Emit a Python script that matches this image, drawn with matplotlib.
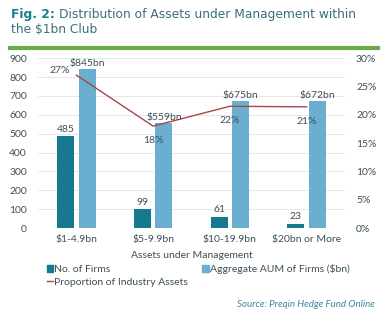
import numpy as np
import matplotlib.pyplot as plt
from matplotlib.lines import Line2D
from matplotlib.patches import Patch

categories = ['$1-4.9bn', '$5-9.9bn', '$10-19.9bn', '$20bn or More']
firms = [485, 99, 61, 23]
aum = [845, 559, 675, 672]
aum_labels = ['$845bn', '$559bn', '$675bn', '$672bn']
proportion = [0.27, 0.18, 0.215, 0.214]
prop_labels = ['27%', '18%', '22%', '21%']

dark = '#17798f'
light = '#6aafd0'
red = '#a8464a'
text_c = '#3d4f5a'

plt.rcParams['font.family'] = ['Lato', 'DejaVu Sans']

fig = plt.figure(figsize=(3.88, 3.23), dpi=100)
ax = fig.add_axes([0.098, 0.294, 0.791, 0.526])
ax2 = ax.twinx()

fs = 7.5

x = np.arange(len(categories))
w = 0.22
ax.bar(x - 0.14, firms, w, color=dark, zorder=3)
ax.bar(x + 0.14, aum, w, color=light, zorder=3)
for xi, v in zip(x, firms):
    ax.text(xi - 0.14, v + 15, str(v), ha='center', va='bottom', fontsize=fs, color=text_c)
for xi, v, s in zip(x, aum, aum_labels):
    ax.text(xi + 0.14, v + 5, s, ha='center', va='bottom', fontsize=fs, color=text_c)

ax.set_ylim(0, 900)
ax.set_yticks(range(0, 901, 100))
ax.set_xlim(-0.5, 3.5)
ax.set_xticks(x)
ax.set_xticklabels(categories)
ax.set_xlabel('Assets under Management', fontsize=fs, color=text_c, labelpad=5)
ax.grid(axis='y', color='#e3e3e3', lw=0.6, zorder=0)

ax2.plot(x, proportion, color=red, lw=1.0, zorder=4)
offs = [(-0.08, 0.008, 'right'), (0, -0.025, 'center'), (0, -0.025, 'center'), (0, -0.025, 'center')]
for xi, v, s, (dx, dy, ha) in zip(x, proportion, prop_labels, offs):
    ax2.text(xi + dx, v + dy, s, ha=ha, va='center', fontsize=fs, color=text_c)
ax2.set_ylim(0, 0.30)
ax2.set_yticks(np.arange(0, 0.31, 0.05))
ax2.set_yticklabels(['0%', '5%', '10%', '15%', '20%', '25%', '30%'])

for a in (ax, ax2):
    for sp in a.spines.values():
        sp.set_visible(False)
    a.tick_params(length=0, labelsize=fs, labelcolor=text_c)
ax.tick_params(axis='y', pad=8)
ax2.tick_params(axis='y', pad=8)
ax.tick_params(axis='x', pad=5)

# title
tfont = ['DejaVu Sans']
fig.text(0.028, 0.955, 'Fig. 2:', fontsize=8.8, fontweight='bold', color='#1a7d8e',
         va='center', family=tfont)
fig.text(0.152, 0.955, 'Distribution of Assets under Management within', fontsize=8.8,
         color='#3a6f7c', va='center', family=tfont)
fig.text(0.028, 0.908, 'the $1bn Club', fontsize=8.8, color='#3a6f7c', va='center', family=tfont)
fig.add_artist(Line2D([0.026, 0.974], [0.852, 0.852], color='#6aab4c', lw=3))

# legend
h1 = Patch(color=dark)
h2 = Patch(color=light)
h3 = Line2D([], [], color=red, lw=1)
fig.legend([h1, h2], ['No. of Firms', 'Aggregate AUM of Firms ($bn)'], loc='center left',
           bbox_to_anchor=(0.108, 0.167), ncol=2, frameon=False, fontsize=fs,
           handlelength=0.6, handleheight=0.6, handletextpad=0.1, columnspacing=8.8,
           labelcolor=text_c, borderpad=0)
fig.legend([h3], ['Proportion of Industry Assets'], loc='center left',
           bbox_to_anchor=(0.108, 0.126), frameon=False, fontsize=fs,
           handlelength=0.6, handletextpad=0.1, labelcolor=text_c, borderpad=0)

fig.text(0.965, 0.057, 'Source: Preqin Hedge Fund Online', fontsize=7, style='italic',
         color='#3a8a9e', ha='right', va='center')

fig.savefig('out.png', dpi=100)
